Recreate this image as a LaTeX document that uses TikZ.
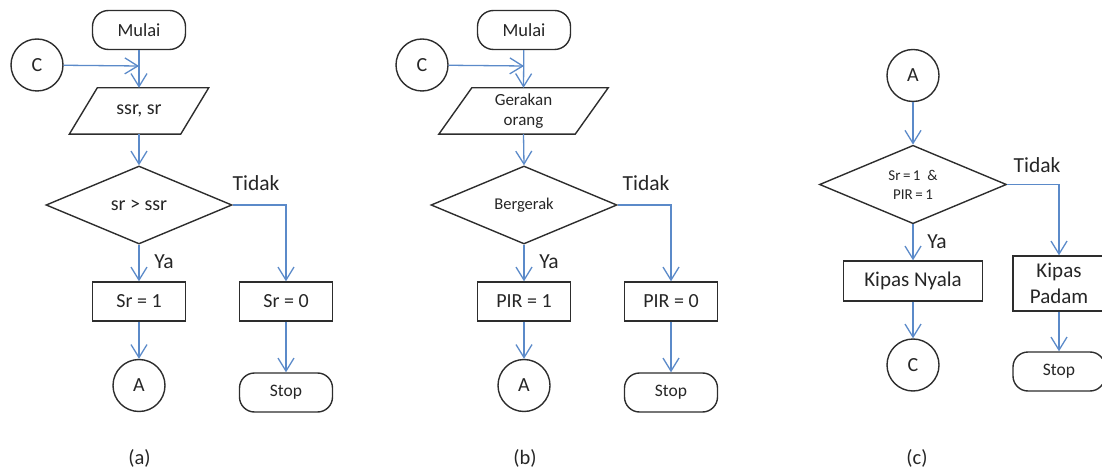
\documentclass[tikz,border=0pt]{standalone}
\usepackage{fontspec}
\setmainfont{Carlito}
\usetikzlibrary{arrows.meta,shapes.geometric}
\definecolor{flow}{RGB}{91,138,201}
\definecolor{edge}{RGB}{45,45,45}
\definecolor{ink}{RGB}{38,38,38}

\begin{document}
\begin{tikzpicture}[x=1pt,y=-1pt,
  every node/.style={text=ink, font=\fontsize{20}{22}\selectfont},
  base/.style={draw=edge, line width=1.4pt, inner sep=0pt, align=center},
  terminal/.style={base, rectangle, rounded corners=16pt, minimum width=93pt, minimum height=39pt},
  connector/.style={base, circle, minimum size=52pt},
  process/.style={base, rectangle, minimum width=93pt, minimum height=39pt},
  decision/.style={base, diamond, minimum width=186pt, minimum height=78pt},
  iobody/.style={inner sep=0pt, align=center, minimum height=46pt},
  ioline/.style={draw=edge, line width=1.4pt, line join=miter},
  arr/.style={draw=flow, line width=1.3pt, -{Straight Barb[length=13pt,width=16pt]}},
  lbl/.style={font=\fontsize{21.5}{24}\selectfont},
  caption/.style={font=\fontsize{20.5}{24}\selectfont},
  startfont/.style={font=\fontsize{18.5}{22}\selectfont},
  stopfont/.style={font=\fontsize{17.5}{20}\selectfont}
]
\useasboundingbox (0,0) rectangle (1102,470);

% ---------- (a) light sensor ----------
\node[terminal, startfont] (ma) at (139,30) {Mulai};
\node[connector] (ca) at (37,65) {C};
\coordinate (ja) at (139,66);
\node[iobody, minimum width=111pt] (ina) at (139,111) {ssr, sr};
\draw[ioline] ([xshift=14pt]ina.north west) -- ([xshift=14pt]ina.north east)
  -- ([xshift=-14pt]ina.south east) -- ([xshift=-14pt]ina.south west) -- cycle;
\node[decision] (da) at (139,205) {sr > ssr};
\node[process] (s1) at (139,301.5) {Sr = 1};
\node[process] (s0) at (286,301.5) {Sr = 0};
\node[connector] (aa) at (139,385.5) {A};
\node[terminal, stopfont, rounded corners=15pt] (sa) at (286,392.5) {Stop};
\node[lbl] (ta) at (256,183) {Tidak};
\node[lbl] (ya) at (164,262) {Ya};
\node[caption] (capa) at (139.5,458) {(a)};

\draw[arr] (ca) -- (ja);
\draw[arr] (ma) -- (ina.north);
\draw[arr] (ina.south) -- (da.north);
\draw[arr] (da.south) -- (s1.north);
\draw[arr] (da.east) -| (s0.north);
\draw[arr] (s1) -- (aa);
\draw[arr] (s0) -- (sa);

% ---------- (b) motion sensor ----------
\node[terminal, startfont] (mb) at (524,30) {Mulai};
\node[connector] (cb) at (422,65) {C};
\coordinate (jb) at (524,66);
\node[iobody, minimum width=136pt, font=\fontsize{17}{20}\selectfont] (inb) at (523.5,111) {Gerakan\\orang};
\draw[ioline] ([xshift=16.5pt]inb.north west) -- ([xshift=16.5pt]inb.north east)
  -- ([xshift=-16.5pt]inb.south east) -- ([xshift=-16.5pt]inb.south west) -- cycle;
\node[decision, font=\fontsize{16.5}{20}\selectfont] (db) at (524,205) {Bergerak};
\node[process] (p1) at (524,301.5) {PIR = 1};
\node[process] (p0) at (671,301.5) {PIR = 0};
\node[connector] (ab) at (524,385.5) {A};
\node[terminal, stopfont, rounded corners=15pt] (sb) at (671,392.5) {Stop};
\node[lbl] (tb) at (646,183) {Tidak};
\node[lbl] (yb) at (549,262) {Ya};
\node[caption] (capb) at (525,458) {(b)};

\draw[arr] (cb) -- (jb);
\draw[arr] (mb) -- (inb.north);
\draw[arr] (inb.south) -- (db.north);
\draw[arr] (db.south) -- (p1.north);
\draw[arr] (db.east) -| (p0.north);
\draw[arr] (p1) -- (ab);
\draw[arr] (p0) -- (sb);

% ---------- (c) fan control ----------
\node[connector] (ac) at (913,75.5) {A};
\node[decision, minimum width=187pt, minimum height=77pt, font=\fontsize{15}{19}\selectfont] (dc) at (913,184.5) {Sr\,=\,1\ \ \&\\PIR\,=\,1};
\node[process, minimum width=139pt, minimum height=40pt, font=\fontsize{21}{24}\selectfont] (kn) at (913,281) {Kipas Nyala};
\node[process, minimum width=92pt, minimum height=55pt, font=\fontsize{21}{26}\selectfont] (kp) at (1059,283.5) {Kipas\\Padam};
\node[connector] (cc) at (913,365) {C};
\node[terminal, stopfont, minimum width=92pt, rounded corners=15pt] (sc) at (1059,371.5) {Stop};
\node[lbl] (tc) at (1037,165) {Tidak};
\node[lbl] (yc) at (937,242) {Ya};
\node[caption] (capc) at (917,458) {(c)};

\draw[arr] (ac) -- (dc.north);
\draw[arr] (dc.south) -- (kn.north);
\draw[arr] (dc.east) -| (kp.north);
\draw[arr] (kn) -- (cc);
\draw[arr] (kp) -- (sc);
\end{tikzpicture}
\end{document}
